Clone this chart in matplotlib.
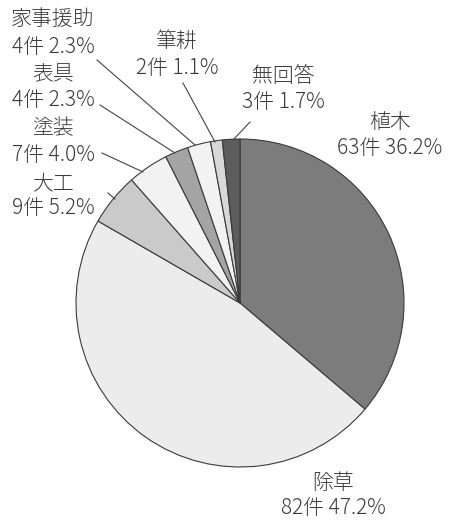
import matplotlib
matplotlib.use("Agg")
import matplotlib.pyplot as plt

plt.rcParams['font.family'] = ['Noto Sans CJK JP', 'DejaVu Sans']

categories = ['植木', '除草', '大工', '塗装', '表具', '家事援助', '筆耕', '無回答']
counts = [63, 82, 9, 7, 4, 4, 2, 3]
percents = ['36.2%', '47.2%', '5.2%', '4.0%', '2.3%', '2.3%', '1.1%', '1.7%']
colors = ['#7c7c7c', '#ececec', '#cacaca', '#f2f2f2', '#a4a4a4', '#f2f2f2', '#d8d8d8', '#5c5c5c']

W, H = 449, 521
fig = plt.figure(figsize=(W / 100, H / 100), dpi=100)
ax = fig.add_axes([0, 0, 1, 1])

cx, cy, r = 240, H - 303, 164
ax.pie(counts, colors=colors, startangle=90, counterclock=False,
       center=(cx, cy), radius=r,
       wedgeprops=dict(edgecolor='#3a3a3a', linewidth=0.8))
ax.set_xlim(0, W)
ax.set_ylim(0, H)
ax.set_aspect('equal')
ax.axis('off')

# label positions (pixel coords, top-left origin): center x, y of line 1, y of line 2
label_pos = {
    '植木': (390, 122, 148),
    '除草': (333, 483, 508),
    '大工': (53, 183, 208),
    '塗装': (53, 128, 155),
    '表具': (53, 74, 100),
    '家事援助': (53, 19, 47),
    '筆耕': (177, 41, 68),
    '無回答': (283, 76, 102),
}
leaders = {
    '家事援助': ((97, 60), (195, 145)),
    '表具': ((100, 105), (175, 153)),
    '塗装': ((102, 153), (143, 172)),
    '大工': ((108, 193), (115, 199)),
    '筆耕': ((183, 83), (215, 142)),
    '無回答': ((250, 122), (233, 140)),
}

for cat, n, p in zip(categories, counts, percents):
    x, y1, y2 = label_pos[cat]
    ax.text(x, H - y1, cat, ha='center', va='center', fontsize=15,
            fontweight='light', color='#3a3a3a')
    ax.text(x, H - y2, f'{n}件 {p}', ha='center', va='center', fontsize=15,
            fontweight='light', color='#3a3a3a')
    if cat in leaders:
        (x0, y0), (x1, y1_) = leaders[cat]
        ax.plot([x0, x1], [H - y0, H - y1_], color='#444444', linewidth=0.8)

fig.savefig('out.png', dpi=100, facecolor='white')
